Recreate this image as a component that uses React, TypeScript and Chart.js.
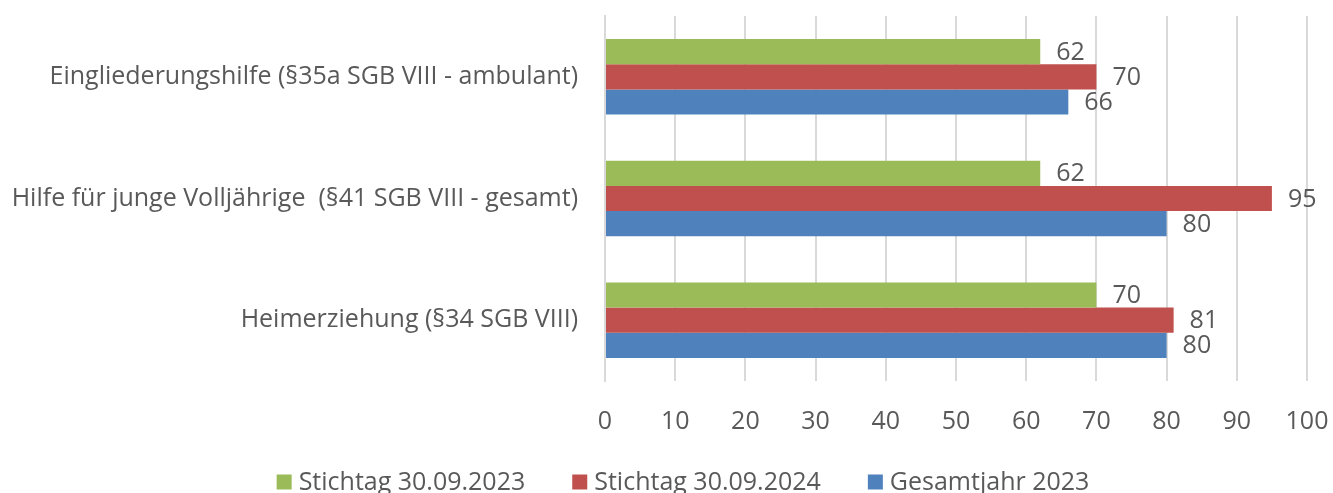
import React, { useEffect, useRef } from "react";
import { Chart, registerables } from "chart.js";

Chart.register(...registerables);

const categories = [
  "Eingliederungshilfe (§35a SGB VIII - ambulant)",
  "Hilfe für junge Volljährige  (§41 SGB VIII - gesamt)",
  "Heimerziehung (§34 SGB VIII)",
];
const seriesNames = ["Stichtag 30.09.2023", "Stichtag 30.09.2024", "Gesamtjahr 2023"];
const stichtag2023 = [62, 62, 70];
const stichtag2024 = [70, 95, 81];
const gesamtjahr2023 = [66, 80, 80];
const seriesColors = ["#9BBB59", "#C0504D", "#4F81BD"];
const xTicksMin = 0;
const xTicksMax = 100;
const xTickStep = 10;

const FONT = "'Open Sans', Lato, sans-serif";
const FONT_SIZE = 25;
const TEXT_COLOR = "#595959";

const valueLabels = {
  id: "valueLabels",
  afterDatasetsDraw(chart: any) {
    const ctx = chart.ctx;
    ctx.save();
    ctx.font = `${FONT_SIZE}px ${FONT}`;
    ctx.fillStyle = TEXT_COLOR;
    ctx.textAlign = "left";
    ctx.textBaseline = "middle";
    chart.data.datasets.forEach((ds: any, i: number) => {
      const meta = chart.getDatasetMeta(i);
      meta.data.forEach((bar: any, j: number) => {
        ctx.fillText(String(ds.data[j]), bar.x + 16, bar.y + 1);
      });
    });
    ctx.restore();
  },
};

const bottomLegend = {
  id: "bottomLegend",
  afterDraw(chart: any) {
    const ctx = chart.ctx;
    ctx.save();
    ctx.font = `${FONT_SIZE}px ${FONT}`;
    ctx.textBaseline = "middle";
    ctx.textAlign = "left";
    const box = 15;
    const gapBoxText = 7;
    const gapItems = 47;
    const items = chart.data.datasets.map((ds: any) => ({
      text: ds.label,
      color: ds.backgroundColor,
      w: ctx.measureText(ds.label).width,
    }));
    const total =
      items.reduce((s: number, it: any) => s + box + gapBoxText + it.w, 0) +
      gapItems * (items.length - 1);
    const cx = 683;
    const cy = 482;
    let x = cx - total / 2;
    items.forEach((it: any) => {
      ctx.fillStyle = it.color;
      ctx.fillRect(x, cy - box / 2, box, box);
      x += box + gapBoxText;
      ctx.fillStyle = TEXT_COLOR;
      ctx.fillText(it.text, x, cy + 1);
      x += it.w + gapItems;
    });
    ctx.restore();
  },
};

export default function App() {
  const ref = useRef<HTMLCanvasElement | null>(null);
  useEffect(() => {
    document.body.style.margin = "0";
    const data = [stichtag2023, stichtag2024, gesamtjahr2023];
    const chart = new Chart(ref.current!, {
      type: "bar",
      data: {
        labels: categories,
        datasets: data.map((d, i) => ({
          label: seriesNames[i],
          data: d,
          backgroundColor: seriesColors[i],
          borderWidth: 0,
          categoryPercentage: 0.62,
          barPercentage: 1.0,
        })),
      },
      options: {
        indexAxis: "y",
        animation: false,
        responsive: false,
        layout: { padding: { top: 16, right: 26, left: 0, bottom: 0 } },
        scales: {
          x: {
            min: xTicksMin,
            max: xTicksMax,
            ticks: {
              stepSize: xTickStep,
              color: TEXT_COLOR,
              font: { family: FONT, size: FONT_SIZE },
              padding: 26,
            },
            grid: { color: "#D9D9D9", lineWidth: 2, drawTicks: false },
            border: { display: false },
            afterFit: (scale: any) => {
              scale.height = 112;
              scale.paddingLeft = 0;
              scale.paddingRight = 0;
            },
          },
          y: {
            ticks: {
              color: TEXT_COLOR,
              font: { family: FONT, size: FONT_SIZE },
              padding: 27,
            },
            grid: { display: false, drawTicks: false },
            border: { display: true, color: "#D9D9D9", width: 2 },
            afterFit: (scale: any) => {
              scale.width = 605;
              scale.paddingTop = 0;
              scale.paddingBottom = 0;
            },
          },
        },
        plugins: {
          legend: { display: false },
          tooltip: { enabled: false },
        },
      },
      plugins: [valueLabels, bottomLegend],
    });
    return () => chart.destroy();
  }, []);
  return (
    <div style={{ width: 1333, height: 493 }}>
      <canvas ref={ref} width={1333} height={493} />
    </div>
  );
}
